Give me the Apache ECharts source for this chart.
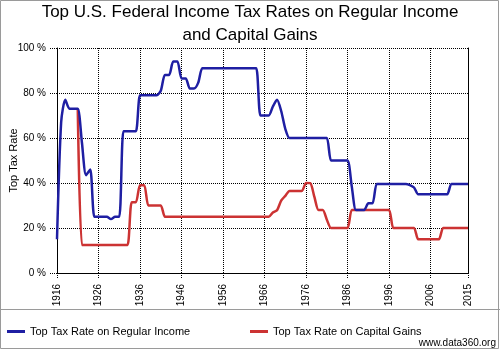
<!DOCTYPE html>
<html>
<head>
<meta charset="utf-8">
<script src="https://cdn.jsdelivr.net/npm/echarts@6/dist/echarts.min.js"></script>
<style>
  html, body { margin: 0; padding: 0; background: #fff; }
  #chart { width: 500px; height: 350px; }
</style>
</head>
<body>
<div id="chart"></div>
<script>
// years on the x axis, 1916..2015
const years = Array.from({ length: 100 }, (_, i) => String(1916 + i));
const tickYears = ['1916', '1926', '1936', '1946', '1956', '1966', '1976', '1986', '1996', '2006', '2015'];

// top rate on regular income, one value per year
const regularIncome = [
  15, 67, 77, 73, 73, 73, 58, 43.5, 46, 25,          // 1916-1925
  25, 25, 25, 24, 25, 25, 63, 63, 63, 63,            // 1926-1935
  79, 79, 79, 79, 79, 81, 88, 88, 94, 94,            // 1936-1945
  86.5, 86.5, 82, 82, 84.5, 91, 91, 91, 91, 91,      // 1946-1955
  91, 91, 91, 91, 91, 91, 91, 91, 91, 70,            // 1956-1965
  70, 70, 74, 77, 72, 64, 60, 60, 60, 60,            // 1966-1975
  60, 60, 60, 60, 60, 60, 50, 50, 50, 50,            // 1976-1985
  50, 38.5, 28, 28, 28, 31, 31, 39.6, 39.6, 39.6,    // 1986-1995
  39.6, 39.6, 39.6, 39.6, 39.6, 39.1, 38, 35, 35, 35, // 1996-2005
  35, 35, 35, 35, 35, 39.6, 39.6, 39.6, 39.6, 39.6   // 2006-2015
];

// top rate on capital gains, none drawn before 1921
const capitalGains = [
  null, null, null, null, null, 73, 12.5, 12.5, 12.5, 12.5,   // 1916-1925
  12.5, 12.5, 12.5, 12.5, 12.5, 12.5, 12.5, 12.5, 31.5, 31.5, // 1926-1935
  39, 39, 30, 30, 30, 30, 25, 25, 25, 25,                     // 1936-1945
  25, 25, 25, 25, 25, 25, 25, 25, 25, 25,                     // 1946-1955
  25, 25, 25, 25, 25, 25, 25, 25, 25, 25,                     // 1956-1965
  25, 25, 26.9, 27.9, 32.2, 34.3, 36.5, 36.5, 36.5, 36.5,     // 1966-1975
  40, 39.9, 33.8, 28, 28, 23.7, 20, 20, 20, 20,               // 1976-1985
  20, 28, 28, 28, 28, 28, 28, 28, 28, 28,                     // 1986-1995
  28, 20, 20, 20, 20, 20, 20, 15, 15, 15,                     // 1996-2005
  15, 15, 15, 20, 20, 20, 20, 20, 20, 20                      // 2006-2015
];

const yTicks = [0, 20, 40, 60, 80, 100];

const FONT = '"Liberation Sans", Arial, sans-serif';
const showTick = (idx, val) => tickYears.indexOf(String(val)) >= 0;

const chart = echarts.init(document.getElementById('chart'), null, { renderer: 'canvas' });

chart.setOption({
  backgroundColor: '#fff',
  animation: false,
  title: {
    text: 'Top U.S. Federal Income Tax Rates on Regular Income\nand Capital Gains',
    left: 'center',
    top: 1,
    padding: 0,
    textStyle: { fontFamily: FONT, fontSize: 17, fontWeight: 'normal', color: '#000', lineHeight: 23 }
  },
  legend: [
    {
      data: ['Top Tax Rate on Regular Income'],
      left: 7, top: 326, padding: 0,
      icon: 'rect', itemWidth: 18, itemHeight: 3, itemGap: 6,
      textStyle: { fontFamily: FONT, fontSize: 11, color: '#000' }
    },
    {
      data: ['Top Tax Rate on Capital Gains'],
      left: 250, top: 326, padding: 0,
      icon: 'rect', itemWidth: 18, itemHeight: 3, itemGap: 6,
      textStyle: { fontFamily: FONT, fontSize: 11, color: '#000' }
    }
  ],
  grid: { left: 57, right: 32, top: 48, bottom: 77, containLabel: false, outerBoundsMode: 'none' },
  xAxis: {
    type: 'category',
    data: years,
    boundaryGap: false,
    axisLine: { lineStyle: { color: '#000', width: 1 } },
    axisTick: { show: true, interval: showTick, length: 6, lineStyle: { color: '#000', type: 'dotted' } },
    axisLabel: { interval: showTick, rotate: 90, margin: 11, fontFamily: FONT, fontSize: 10, color: '#000' },
    splitLine: { show: true, interval: showTick, lineStyle: { color: '#000', type: 'dotted', width: 1 } }
  },
  yAxis: [
    {
      type: 'value',
      min: yTicks[0], max: yTicks[yTicks.length - 1], interval: 20,
      name: 'Top Tax Rate',
      nameLocation: 'middle',
      nameGap: 38,
      nameMoveOverlap: false,
      nameTextStyle: { fontFamily: FONT, fontSize: 11, color: '#000' },
      axisLine: { show: true, lineStyle: { color: '#000', width: 1 } },
      axisTick: { show: true, length: 8, lineStyle: { color: '#000', type: 'dotted' } },
      axisLabel: { formatter: '{value} %', margin: 11, fontFamily: FONT, fontSize: 10, color: '#000' },
      splitLine: { show: true, lineStyle: { color: '#000', type: 'dotted', width: 1 } }
    },
    {
      type: 'value',
      position: 'right',
      min: 0, max: 100, interval: 20,
      axisLine: { show: true, lineStyle: { color: '#000', width: 1 } },
      axisTick: { show: false },
      axisLabel: { show: false },
      splitLine: { show: false }
    }
  ],
  graphic: [
    {
      type: 'rect',
      shape: { x: 0.5, y: 0.5, width: 498, height: 348 },
      style: { fill: 'none', stroke: '#9a9a9a', lineWidth: 1 },
      silent: true
    },
    {
      type: 'line',
      shape: { x1: 0, y1: 309.5, x2: 500, y2: 309.5 },
      style: { stroke: '#9a9a9a', lineWidth: 1 },
      silent: true
    },
    {
      type: 'text',
      right: 4, top: 338,
      style: { text: 'www.data360.org', fontFamily: FONT, fontSize: 10, fill: '#000' }
    }
  ],
  series: [
    {
      name: 'Top Tax Rate on Regular Income',
      type: 'line',
      data: regularIncome,
      smooth: 0.25,
      symbol: 'none',
      z: 3,
      color: '#1f1fa3',
      lineStyle: { color: '#1f1fa3', width: 2.5 }
    },
    {
      name: 'Top Tax Rate on Capital Gains',
      type: 'line',
      data: capitalGains,
      smooth: 0.25,
      symbol: 'none',
      z: 2,
      color: '#cc3333',
      lineStyle: { color: '#cc3333', width: 2.5 }
    }
  ]
});
</script>
</body>
</html>
